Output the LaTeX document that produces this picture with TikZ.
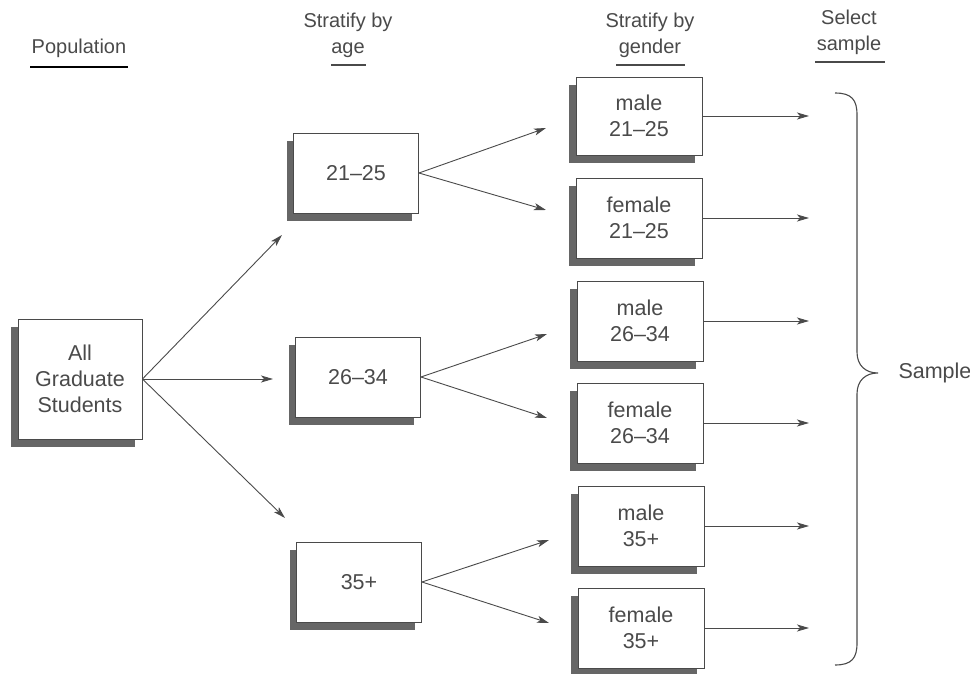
\documentclass[tikz,border=0pt]{standalone}
\usepackage{fontspec}
\setmainfont{Liberation Sans}
\usetikzlibrary{arrows.meta,shadows}

\definecolor{tinta}{HTML}{4A4A4A}
\definecolor{sombra}{HTML}{666666}

\tikzset{
  caja/.style={draw=tinta,line width=0.9pt,fill=white,text=tinta,align=center,
    font=\fontsize{21.5}{26}\selectfont,inner sep=0pt,
    general shadow={fill=sombra,shadow xshift=-7pt,shadow yshift=-8pt}},
  flecha/.style={draw=tinta,line width=0.9pt,-{Stealth[length=12pt,width=7pt,inset=3pt]}},
  titulo/.style={text=tinta,align=center,font=\fontsize{20}{26}\selectfont}
}

\begin{document}
\begin{tikzpicture}[x=1pt,y=-1pt]
        % Fija el marco de la figura.
        \useasboundingbox (0,0) rectangle (970,674);

        % Encabezados de cada columna con su subrayado.
        \node[titulo] (pob) at (79,48) {Population};
        \node[titulo] (edad) at (348,35) {Stratify by\\age};
        \node[titulo] (gen) at (650,35) {Stratify by\\gender};
        \node[titulo] (sel) at (849,32) {Select\\sample};
        \draw[line width=2pt] (30,67) -- (128,67);
        \draw[tinta,line width=1.2pt] (331,65) -- (366,65);
        \draw[tinta,line width=1.2pt] (616,65) -- (685,65);
        \draw[tinta,line width=1.2pt] (815,62) -- (885,62);

        % Caja de la población completa.
        \node[caja,minimum width=124pt,minimum height=120pt] (todos) at (80,379) {All\\Graduate\\Students};

        % Cajas de los estratos por edad.
        \node[caja,minimum width=125pt,minimum height=80pt] (e1) at (356,173) {21--25};
        \node[caja,minimum width=125pt,minimum height=80pt] (e2) at (358,377) {26--34};
        \node[caja,minimum width=125pt,minimum height=80pt] (e3) at (359,582) {35+};

        % Cajas de los estratos por edad y género.
        \node[caja,minimum width=126pt,minimum height=78pt] (g1) at (639,116) {male\\21--25};
        \node[caja,minimum width=126pt,minimum height=80pt] (g2) at (639,218) {female\\21--25};
        \node[caja,minimum width=126pt,minimum height=80pt] (g3) at (640,321) {male\\26--34};
        \node[caja,minimum width=126pt,minimum height=80pt] (g4) at (640,423) {female\\26--34};
        \node[caja,minimum width=126pt,minimum height=80pt] (g5) at (641,526) {male\\35+};
        \node[caja,minimum width=126pt,minimum height=80pt] (g6) at (641,628) {female\\35+};

        % Puntas libres de las flechas.
        \coordinate (p1) at (282,235);
        \coordinate (p2) at (273,379);
        \coordinate (p3) at (285,518);
        \coordinate (q1) at (546,128);
        \coordinate (q2) at (546,210);
        \coordinate (q3) at (547,334);
        \coordinate (q4) at (547,418);
        \coordinate (q5) at (549,540);
        \coordinate (q6) at (549,623);
        \foreach \i/\y in {1/116,2/218,3/321,4/423,5/526,6/628}
          \coordinate (s\i) at (809,\y);

        % Flechas de la población a las edades.
        \foreach \p in {p1,p2,p3}
          \draw[flecha] (todos.east) -- (\p);

        % Flechas de cada edad a los dos géneros.
        \draw[flecha] (e1.east) -- (q1);
        \draw[flecha] (e1.east) -- (q2);
        \draw[flecha] (e2.east) -- (q3);
        \draw[flecha] (e2.east) -- (q4);
        \draw[flecha] (e3.east) -- (q5);
        \draw[flecha] (e3.east) -- (q6);

        % Flechas hacia la muestra.
        \foreach \i in {1,...,6}
          \draw[flecha] (g\i.east) -- (s\i);

        % Llave que agrupa la muestra.
        \draw[tinta,line width=1.1pt] (835,93) .. controls (852,93) and (857,100) .. (857,115)
          -- (857,352) .. controls (857,366) and (866,373) .. (878,373)
          .. controls (866,373) and (857,380) .. (857,394)
          -- (857,643) .. controls (857,658) and (852,665) .. (835,665);
        \node[titulo,anchor=west,font=\fontsize{21.5}{26}\selectfont] (muestra) at (895,373) {Sample};
    \end{tikzpicture}
\end{document}
